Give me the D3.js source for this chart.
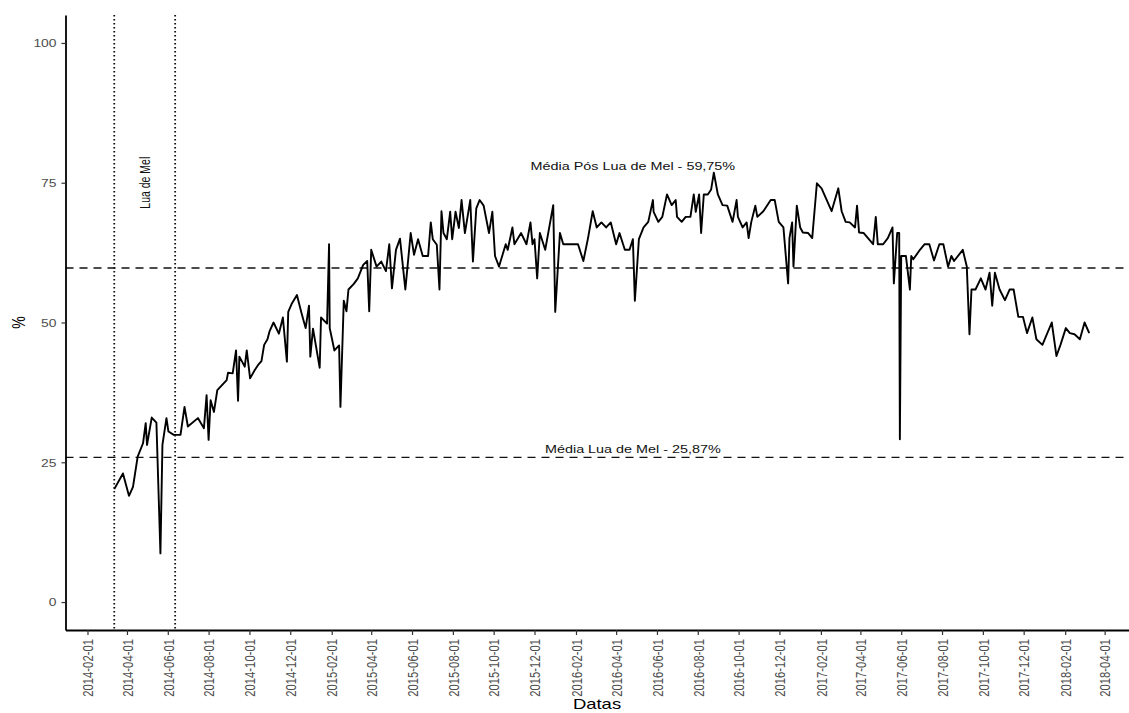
<!DOCTYPE html>
<html><head><meta charset="utf-8">
<script src="https://cdn.jsdelivr.net/npm/d3@7"></script>
<style>body{margin:0;background:#fff}svg{display:block}text{font-family:"Liberation Sans",Arial,Helvetica,sans-serif}</style>
</head><body><svg id="c" width="1129" height="713"></svg>
<script>
const dates = ["2014-03-13","2014-03-26","2014-04-04","2014-04-10","2014-04-17","2014-04-25","2014-04-29","2014-05-01","2014-05-08","2014-05-15","2014-05-21","2014-05-24","2014-05-30","2014-06-02","2014-06-10","2014-06-20","2014-06-26","2014-07-01","2014-07-16","2014-07-25","2014-07-29","2014-08-01","2014-08-04","2014-08-09","2014-08-14","2014-08-28","2014-08-30","2014-09-06","2014-09-11","2014-09-14","2014-09-16","2014-09-24","2014-09-27","2014-10-02","2014-10-09","2014-10-14","2014-10-19","2014-10-23","2014-10-28","2014-10-31","2014-11-06","2014-11-14","2014-11-20","2014-11-26","2014-11-28","2014-12-03","2014-12-11","2014-12-18","2014-12-24","2014-12-29","2014-12-31","2015-01-04","2015-01-14","2015-01-16","2015-01-25","2015-01-28","2015-01-29","2015-02-05","2015-02-12","2015-02-14","2015-02-19","2015-02-23","2015-02-26","2015-03-06","2015-03-12","2015-03-20","2015-03-26","2015-03-29","2015-04-01","2015-04-09","2015-04-16","2015-04-23","2015-04-28","2015-05-02","2015-05-08","2015-05-14","2015-05-22","2015-05-30","2015-06-04","2015-06-10","2015-06-17","2015-06-25","2015-06-29","2015-07-02","2015-07-08","2015-07-12","2015-07-15","2015-07-18","2015-07-23","2015-07-28","2015-07-31","2015-08-05","2015-08-10","2015-08-14","2015-08-19","2015-08-27","2015-08-31","2015-09-05","2015-09-10","2015-09-16","2015-09-24","2015-09-29","2015-10-03","2015-10-09","2015-10-19","2015-10-22","2015-10-29","2015-11-01","2015-11-11","2015-11-19","2015-11-25","2015-11-28","2015-12-01","2015-12-05","2015-12-09","2015-12-17","2015-12-29","2016-01-01","2016-01-08","2016-01-13","2016-01-23","2016-02-04","2016-02-12","2016-02-19","2016-02-26","2016-03-03","2016-03-10","2016-03-17","2016-03-24","2016-04-01","2016-04-06","2016-04-14","2016-04-21","2016-04-26","2016-04-29","2016-05-05","2016-05-12","2016-05-19","2016-05-26","2016-05-27","2016-06-03","2016-06-09","2016-06-16","2016-06-23","2016-06-29","2016-07-01","2016-07-08","2016-07-14","2016-07-21","2016-07-26","2016-07-29","2016-08-03","2016-08-06","2016-08-10","2016-08-16","2016-08-21","2016-08-25","2016-08-31","2016-09-07","2016-09-14","2016-09-22","2016-09-28","2016-09-30","2016-10-07","2016-10-13","2016-10-16","2016-10-20","2016-10-26","2016-10-29","2016-11-07","2016-11-18","2016-11-24","2016-11-30","2016-12-07","2016-12-14","2016-12-16","2016-12-20","2016-12-22","2016-12-27","2017-01-01","2017-01-05","2017-01-13","2017-01-19","2017-01-26","2017-02-02","2017-02-17","2017-02-27","2017-03-04","2017-03-10","2017-03-16","2017-03-24","2017-03-27","2017-03-30","2017-04-06","2017-04-20","2017-04-24","2017-04-27","2017-05-05","2017-05-12","2017-05-19","2017-05-21","2017-05-26","2017-05-29","2017-05-30","2017-06-01","2017-06-08","2017-06-14","2017-06-16","2017-06-19","2017-06-29","2017-07-06","2017-07-13","2017-07-20","2017-07-28","2017-08-03","2017-08-10","2017-08-15","2017-08-19","2017-09-01","2017-09-07","2017-09-11","2017-09-14","2017-09-20","2017-09-28","2017-10-05","2017-10-11","2017-10-15","2017-10-19","2017-10-26","2017-11-03","2017-11-10","2017-11-16","2017-11-23","2017-11-30","2017-12-06","2017-12-14","2017-12-20","2017-12-29","2018-01-12","2018-01-19","2018-01-25","2018-02-02","2018-02-08","2018-02-15","2018-02-23","2018-03-02","2018-03-09"];
const values = [20.2,23.0,19.0,20.6,26.0,28.4,32.0,28.1,33.0,32.1,8.7,28.1,32.9,30.5,29.9,29.9,34.9,31.4,32.9,31.1,37.0,29.0,36.1,34.0,37.9,39.7,41.0,40.9,45.0,36.0,43.9,42.1,45.0,40.0,41.5,42.4,43.1,46.0,47.0,48.4,50.0,48.0,50.9,43.0,51.9,53.3,54.9,51.6,49.0,53.0,43.9,48.9,41.9,50.9,49.8,64.0,49.0,45.0,45.9,34.9,53.9,52.0,55.9,56.9,57.9,60.3,61.0,52.0,63.0,60.0,60.9,59.2,64.0,56.1,63.0,65.0,55.9,66.0,62.1,64.9,61.9,61.9,67.9,64.9,63.9,55.9,69.9,66.0,64.9,69.8,64.9,69.8,66.9,71.9,66.0,71.9,60.9,70.4,71.9,70.9,66.0,69.8,61.9,60.0,64.0,63.0,67.0,64.0,66.0,64.0,67.9,64.0,64.9,57.9,66.0,63.0,71.0,51.9,66.0,64.0,64.0,64.0,61.0,65.1,69.9,67.0,67.9,67.0,67.9,64.0,66.0,63.0,63.0,64.9,53.9,64.9,67.0,68.0,71.9,69.8,68.0,68.9,72.9,71.0,71.9,68.9,68.0,68.9,68.9,72.9,69.8,72.9,66.0,72.9,72.9,73.8,76.8,72.9,71.0,70.9,68.0,71.9,68.9,67.0,67.9,65.1,68.0,70.9,68.9,69.9,71.9,71.9,68.0,67.0,57.0,65.1,67.9,60.0,70.9,67.0,66.1,66.0,65.1,74.9,74.0,69.9,74.0,69.9,68.0,67.9,67.0,70.9,66.1,66.0,64.0,68.9,64.0,64.0,65.1,67.0,57.0,66.0,66.0,29.1,61.9,61.9,55.9,61.9,61.3,63.0,64.0,64.0,61.1,64.0,64.0,60.0,61.9,61.0,63.0,60.0,47.9,55.9,55.9,57.9,55.9,58.9,53.0,58.9,55.9,54.0,55.9,55.9,51.0,51.0,48.1,50.9,47.0,46.0,50.0,44.0,46.0,49.0,48.1,47.9,47.0,50.0,48.1];

const yTicks = [0, 25, 50, 75, 100];
const xTickLabels = ["2014-02-01","2014-04-01","2014-06-01","2014-08-01","2014-10-01","2014-12-01","2015-02-01","2015-04-01","2015-06-01","2015-08-01","2015-10-01","2015-12-01","2016-02-01","2016-04-01","2016-06-01","2016-08-01","2016-10-01","2016-12-01","2017-02-01","2017-04-01","2017-06-01","2017-08-01","2017-10-01","2017-12-01","2018-02-01","2018-04-01"];
const honeymoonDates = ["2014-03-13", "2014-06-12"];
const honeymoonLabel = "Lua de Mel";
const meanValues = [25.87, 59.75];
const meanLabels = ["Média Lua de Mel - 25,87%", "Média Pós Lua de Mel - 59,75%"];
const meanLabelY = [27.3, 78];
const meanLabelDate = "2016-04-26";
const honeymoonLabelY = 75;
const xTitle = "Datas", yTitle = "%";

const SX = 1.32; // horizontal stretch of the reference picture
const parse = d3.timeParse("%Y-%m-%d");
const fmt = d3.timeFormat("%Y-%m-%d");
const data = dates.map((d, i) => ({date: parse(d), v: values[i]}));
const svg = d3.select("#c");

const ext = d3.extent(data, d => d.date);
const span = ext[1] - ext[0];
const x = d3.scaleTime()
  .domain([new Date(+ext[0] - 0.05 * span), new Date(+ext[1] + 0.05 * span)])
  .range([65.5, 1138]);
const y = d3.scaleLinear().domain([-5, 105]).range([630, 15]);

// mean reference lines
svg.append("g").selectAll("line").data(meanValues).join("line")
  .attr("x1", x.range()[0]).attr("x2", x.range()[1])
  .attr("y1", d => y(d)).attr("y2", d => y(d))
  .attr("stroke", "#111").attr("stroke-width", 1.4).attr("stroke-dasharray", "8,6");

// honeymoon vertical dotted lines
svg.append("g").selectAll("line").data(honeymoonDates).join("line")
  .attr("x1", d => x(parse(d))).attr("x2", d => x(parse(d)))
  .attr("y1", y.range()[1]).attr("y2", y.range()[0])
  .attr("stroke", "#111").attr("stroke-width", 1.8).attr("stroke-dasharray", "1.5,2.5");

// series line
svg.append("path").datum(data)
  .attr("fill", "none").attr("stroke", "#000").attr("stroke-width", 1.9)
  .attr("stroke-linejoin", "round")
  .attr("d", d3.line().x(d => x(d.date)).y(d => y(d.v)));

// annotations
svg.append("g").selectAll("text").data(meanLabels).join("text")
  .attr("transform", (d, i) => `translate(${x(parse(meanLabelDate))},${y(meanLabelY[i])}) scale(${SX},1)`)
  .attr("text-anchor", "middle").attr("dy", "0.35em")
  .attr("font-size", 10.9).attr("fill", "#111").text(d => d);

const hmMid = new Date((+parse(honeymoonDates[0]) + +parse(honeymoonDates[1])) / 2);
svg.append("text")
  .attr("transform", `translate(${x(hmMid)},${y(honeymoonLabelY)}) scale(${SX},1) rotate(-90)`)
  .attr("text-anchor", "middle").attr("dy", "0.35em")
  .attr("font-size", 10.5).attr("fill", "#111").text(honeymoonLabel);

// y axis
const gy = svg.append("g").attr("transform", "translate(65.5,0)")
  .call(d3.axisLeft(y).tickValues(yTicks).tickSize(4).tickSizeOuter(0));
gy.select(".domain").attr("stroke", "#000").attr("stroke-width", 1.8);
gy.selectAll(".tick line").attr("stroke", "#333").attr("stroke-width", 1.2);
gy.selectAll(".tick text").attr("x", null).attr("dy", "0.36em")
  .attr("transform", `translate(-9,0) scale(${SX},1)`)
  .attr("text-anchor", "end").attr("font-size", 10.5).attr("fill", "#4d4d4d");

// x axis
const gx = svg.append("g").attr("transform", "translate(0,630)")
  .call(d3.axisBottom(x).tickValues(xTickLabels.map(parse)).tickFormat(fmt).tickSize(5).tickSizeOuter(0));
gx.select(".domain").attr("stroke", "#000").attr("stroke-width", 1.8);
gx.selectAll(".tick line").attr("stroke", "#333").attr("stroke-width", 1.2);
gx.selectAll(".tick text").attr("y", null).attr("dy", "0.35em")
  .attr("transform", `translate(0,9) scale(${SX},1) rotate(-90)`)
  .attr("text-anchor", "end").attr("font-size", 11.3).attr("fill", "#4d4d4d");
svg.selectAll("g").attr("font-family", null);

// axis titles
svg.append("text")
  .attr("transform", `translate(597,709) scale(${SX},1)`)
  .attr("text-anchor", "middle").attr("font-size", 14).attr("fill", "#000").text(xTitle);
svg.append("text")
  .attr("transform", `translate(19,${y(50)}) scale(${SX},1) rotate(-90)`)
  .attr("text-anchor", "middle").attr("dy", "0.35em")
  .attr("font-size", 14).attr("fill", "#000").text(yTitle);
</script></body></html>
